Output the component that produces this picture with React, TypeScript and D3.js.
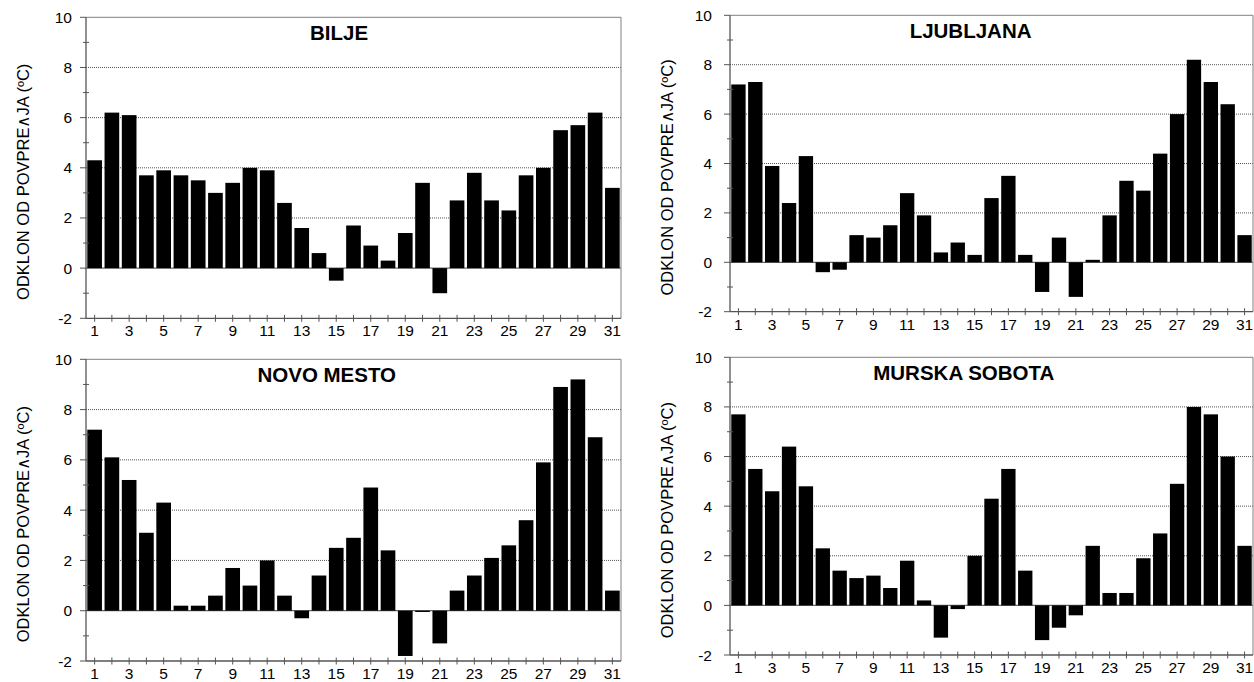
import React from 'react';
import * as d3 from 'd3';

const days = [1, 2, 3, 4, 5, 6, 7, 8, 9, 10, 11, 12, 13, 14, 15, 16, 17, 18, 19, 20, 21, 22, 23, 24, 25, 26, 27, 28, 29, 30, 31];
const tickDays = [1, 3, 5, 7, 9, 11, 13, 15, 17, 19, 21, 23, 25, 27, 29, 31];
const yTicks = [-2, 0, 2, 4, 6, 8, 10];
const yMinorTicks = [-1, 1, 3, 5, 7, 9];
const gridValues = [2, 4, 6, 8];
const stations = ['BILJE', 'LJUBLJANA', 'NOVO MESTO', 'MURSKA SOBOTA'];

const bilje = [4.3, 6.2, 6.1, 3.7, 3.9, 3.7, 3.5, 3.0, 3.4, 4.0, 3.9, 2.6, 1.6, 0.6, -0.5, 1.7, 0.9, 0.3, 1.4, 3.4, -1.0, 2.7, 3.8, 2.7, 2.3, 3.7, 4.0, 5.5, 5.7, 6.2, 3.2];
const ljubljana = [7.2, 7.3, 3.9, 2.4, 4.3, -0.4, -0.3, 1.1, 1.0, 1.5, 2.8, 1.9, 0.4, 0.8, 0.3, 2.6, 3.5, 0.3, -1.2, 1.0, -1.4, 0.1, 1.9, 3.3, 2.9, 4.4, 6.0, 8.2, 7.3, 6.4, 1.1];
const novoMesto = [7.2, 6.1, 5.2, 3.1, 4.3, 0.2, 0.2, 0.6, 1.7, 1.0, 2.0, 0.6, -0.3, 1.4, 2.5, 2.9, 4.9, 2.4, -1.8, -0.05, -1.3, 0.8, 1.4, 2.1, 2.6, 3.6, 5.9, 8.9, 9.2, 6.9, 0.8];
const murskaSobota = [7.7, 5.5, 4.6, 6.4, 4.8, 2.3, 1.4, 1.1, 1.2, 0.7, 1.8, 0.2, -1.3, -0.15, 2.0, 4.3, 5.5, 1.4, -1.4, -0.9, -0.4, 2.4, 0.5, 0.5, 1.9, 2.9, 4.9, 8.0, 7.7, 6.0, 2.4];

const yLabel = 'ODKLON OD POVPRE\u2227JA (ºC)';

const FONT = '"Liberation Sans", Arial, Helvetica, sans-serif';

type PanelProps = {
  name: string;
  values: number[];
  left: number;
  right: number;
  top: number;
  bottom: number;
  titleFrac: number;
  labelGap: number;
};

const panels: PanelProps[] = [
  { name: stations[0], values: bilje, left: 86, right: 621, top: 17.3, bottom: 318.3, titleFrac: 0.473, labelGap: 14 },
  { name: stations[1], values: ljubljana, left: 730, right: 1253, top: 15.3, bottom: 311.7, titleFrac: 0.46, labelGap: 18 },
  { name: stations[2], values: novoMesto, left: 86, right: 621, top: 359.3, bottom: 661, titleFrac: 0.45, labelGap: 14 },
  { name: stations[3], values: murskaSobota, left: 730, right: 1253, top: 357.3, bottom: 655, titleFrac: 0.447, labelGap: 18 },
];

function Panel({ name, values, left, right, top, bottom, titleFrac, labelGap }: PanelProps) {
  const x = d3.scaleBand<number>().domain(days).range([left, right]).paddingInner(0.15).paddingOuter(0.075);
  const y = d3.scaleLinear().domain([-2, 10]).range([bottom, top]);
  const step = (right - left) / days.length;
  const centers = days.map((d, i) => left + step * (i + 0.5));
  const axisColor = '#555';
  return (
    <g>
      {gridValues.map((v) => (
        <line key={'g' + v} x1={left} x2={right} y1={y(v)} y2={y(v)} stroke="#555" strokeWidth={1} strokeDasharray="1,1" />
      ))}
      <line x1={left} x2={right} y1={y(0)} y2={y(0)} stroke="#666" strokeWidth={1.2} />
      {values.map((v, i) => {
        const d = days[i];
        const y0 = y(0);
        const y1 = y(v);
        return (
          <rect
            key={'b' + d}
            x={x(d)}
            width={x.bandwidth()}
            y={Math.min(y0, y1)}
            height={Math.abs(y1 - y0)}
            fill="#000"
          />
        );
      })}
      {/* frame */}
      <line x1={left} x2={right} y1={top} y2={top} stroke="#808080" strokeWidth={1} />
      <line x1={right} x2={right} y1={top} y2={bottom} stroke="#808080" strokeWidth={1} />
      {/* y axis */}
      <line x1={left} x2={left} y1={top} y2={bottom} stroke={axisColor} strokeWidth={1.3} />
      {yTicks.map((v) => (
        <g key={'yt' + v}>
          <line x1={left - 6} x2={left} y1={y(v)} y2={y(v)} stroke={axisColor} strokeWidth={1} />
          <text x={left - labelGap} y={y(v) + 5.5} textAnchor="end" fontSize={15.5} fontFamily={FONT} fill="#000">
            {v}
          </text>
        </g>
      ))}
      {yMinorTicks.map((v) => (
        <line key={'ym' + v} x1={left - 3} x2={left + 3} y1={y(v)} y2={y(v)} stroke={axisColor} strokeWidth={1} />
      ))}
      {/* x axis */}
      <line x1={left} x2={right} y1={bottom} y2={bottom} stroke={axisColor} strokeWidth={1.3} />
      {days.map((d, i) => (
        <line key={'xt' + d} x1={centers[i]} x2={centers[i]} y1={bottom - 3.5} y2={bottom + 3.5} stroke={axisColor} strokeWidth={1} />
      ))}
      {tickDays.map((d) => (
        <text
          key={'xl' + d}
          x={(x(d) as number) + x.bandwidth() / 2}
          y={bottom + 18}
          textAnchor="middle"
          fontSize={15.5}
          fontFamily={FONT}
          fill="#000"
        >
          {d}
        </text>
      ))}
      {/* title */}
      <text
        x={left + (right - left) * titleFrac}
        y={top + 22.5}
        textAnchor="middle"
        fontSize={20.5}
        fontWeight="bold"
        fontFamily={FONT}
        fill="#000"
      >
        {name}
      </text>
      {/* y label */}
      <text
        transform={`translate(${left - 57},${(top + bottom) / 2 + 14}) rotate(-90)`}
        textAnchor="middle"
        fontSize={16.5}
        fontFamily={FONT}
        fill="#000"
      >
        {yLabel}
      </text>
    </g>
  );
}

export default function App() {
  return (
    <svg
      width={1254}
      height={682}
      style={{ position: 'absolute', left: 0, top: 0, background: '#fff' }}
    >
      <rect x={0} y={0} width={1254} height={682} fill="#fff" />
      {panels.map((p) => (
        <Panel key={p.name} {...p} />
      ))}
    </svg>
  );
}
